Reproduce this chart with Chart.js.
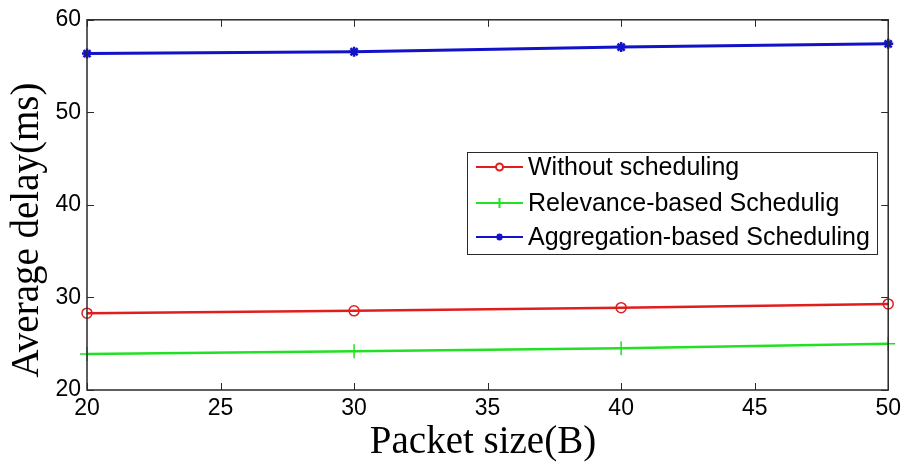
<!DOCTYPE html>
<html>
<head>
<meta charset="utf-8">
<title>Average delay vs packet size</title>
<script src="https://cdn.jsdelivr.net/npm/chart.js@4.4.1/dist/chart.umd.min.js"></script>
<style>
  html, body { margin: 0; padding: 0; background: #ffffff; }
  #wrap { width: 906px; height: 464px; }
</style>
</head>
<body>
<div id="wrap"><canvas id="c" width="906" height="464"></canvas></div>
<script>
// Packet sizes (B) on the x axis
const packetSizes = [20, 30, 40, 50];
// Average delay (ms) per scheduling scheme
const withoutScheduling = [28.3, 28.55, 28.9, 29.3];
const relevanceBased = [23.9, 24.2, 24.5, 25.0];
const aggregationBased = [56.35, 56.55, 57.05, 57.4];
// Tick positions
const xTickValues = [20, 25, 30, 35, 40, 45, 50];
const yTickValues = [20, 30, 40, 50, 60];
// Series names
const seriesNames = ['Without scheduling', 'Relevance-based Schedulig', 'Aggregation-based Scheduling'];

const RED = '#e01e1e';
const GREEN = '#22e022';
const BLUE = '#1212c8';
const FRAME = '#2a2a2a';

function pts(values) {
  return packetSizes.map((x, i) => ({ x: x, y: values[i] }));
}

// Box, inward ticks, axis titles and legend in MATLAB style
const figureDecor = {
  id: 'figureDecor',
  afterDatasetsDraw(chart) {
    const ctx = chart.ctx;
    const a = chart.chartArea;
    const xs = chart.scales.x, ys = chart.scales.y;
    ctx.save();
    ctx.strokeStyle = FRAME;
    ctx.lineWidth = 1.5;
    ctx.strokeRect(a.left, a.top, a.right - a.left, a.bottom - a.top);
    const tl = 7;
    ctx.lineWidth = 1;
    ctx.beginPath();
    xTickValues.forEach(v => {
      const px = Math.round(xs.getPixelForValue(v)) + 0.5;
      ctx.moveTo(px, a.bottom); ctx.lineTo(px, a.bottom - tl);
      ctx.moveTo(px, a.top); ctx.lineTo(px, a.top + tl);
    });
    yTickValues.forEach(v => {
      const py = Math.round(ys.getPixelForValue(v)) + 0.5;
      ctx.moveTo(a.left, py); ctx.lineTo(a.left + tl, py);
      ctx.moveTo(a.right, py); ctx.lineTo(a.right - tl, py);
    });
    ctx.stroke();

    // Legend
    const lx = 467, ly = 152, lw = 410, lh = 102;
    ctx.fillStyle = '#ffffff';
    ctx.fillRect(lx, ly, lw, lh);
    ctx.strokeStyle = FRAME;
    ctx.lineWidth = 1;
    ctx.strokeRect(lx + 0.5, ly + 0.5, lw, lh);
    ctx.font = '25px "Liberation Sans", Arial, sans-serif';
    ctx.textBaseline = 'middle';
    ctx.textAlign = 'left';
    const rows = [167, 203, 237];
    chart.data.datasets.forEach((ds, i) => {
      const y = rows[i];
      ctx.strokeStyle = ds.borderColor;
      ctx.lineWidth = 2;
      ctx.beginPath();
      ctx.moveTo(476, y); ctx.lineTo(523, y);
      ctx.stroke();
      Chart.helpers.drawPoint(ctx, {
        pointStyle: ds.pointStyle,
        radius: ds.pointRadius * 0.7,
        borderWidth: ds.pointBorderWidth
      }, 499.5, y);
      ctx.fillStyle = '#000000';
      ctx.fillText(ds.label, 528, y + 1);
    });

    // Axis titles
    ctx.fillStyle = '#000000';
    ctx.font = '39px "Liberation Serif", "Times New Roman", serif';
    ctx.textAlign = 'center';
    ctx.textBaseline = 'alphabetic';
    ctx.fillText('Packet size(B)', 483, 453);
    ctx.save();
    ctx.translate(38, 230);
    ctx.rotate(-Math.PI / 2);
    ctx.fillText('Average delay(ms)', 0, 0);
    ctx.restore();
    ctx.restore();
  }
};

const chart = new Chart(document.getElementById('c'), {
  type: 'line',
  data: {
    datasets: [
      {
        label: seriesNames[0], data: pts(withoutScheduling),
        borderColor: RED, backgroundColor: 'rgba(0,0,0,0)',
        borderWidth: 2.5, pointStyle: 'circle', pointRadius: 5,
        pointBorderWidth: 1.5, pointBorderColor: RED, pointBackgroundColor: 'rgba(0,0,0,0)',
        clip: false
      },
      {
        label: seriesNames[1], data: pts(relevanceBased),
        borderColor: GREEN, backgroundColor: 'rgba(0,0,0,0)',
        borderWidth: 2.5, pointStyle: 'cross', pointRadius: 7,
        pointBorderWidth: 1.5, pointBorderColor: GREEN,
        clip: false
      },
      {
        label: seriesNames[2], data: pts(aggregationBased),
        borderColor: BLUE, backgroundColor: 'rgba(0,0,0,0)',
        borderWidth: 3, pointStyle: 'star', pointRadius: 5,
        pointBorderWidth: 2.5, pointBorderColor: BLUE, pointBackgroundColor: BLUE,
        clip: false
      }
    ]
  },
  options: {
    responsive: false,
    animation: false,
    events: [],
    layout: { padding: { top: 16, right: 17, left: 0, bottom: 0 } },
    plugins: { legend: { display: false }, tooltip: { enabled: false }, title: { display: false } },
    scales: {
      x: {
        type: 'linear', min: 20, max: 50,
        afterBuildTicks(s) { s.ticks = xTickValues.map(v => ({ value: v })); },
        afterFit(s) { s.height = 74; },
        grid: { display: false, drawTicks: false },
        border: { display: false },
        ticks: { color: '#000000', font: { family: '"Liberation Sans", Arial, sans-serif', size: 23 }, padding: 5, maxRotation: 0, autoSkip: false }
      },
      y: {
        type: 'linear', min: 20, max: 60,
        afterBuildTicks(s) { s.ticks = yTickValues.map(v => ({ value: v })); },
        afterFit(s) { s.width = 87; },
        grid: { display: false, drawTicks: false },
        border: { display: false },
        ticks: { color: '#000000', font: { family: '"Liberation Sans", Arial, sans-serif', size: 23 }, padding: 6 }
      }
    }
  },
  plugins: [figureDecor]
});
</script>
</body>
</html>
